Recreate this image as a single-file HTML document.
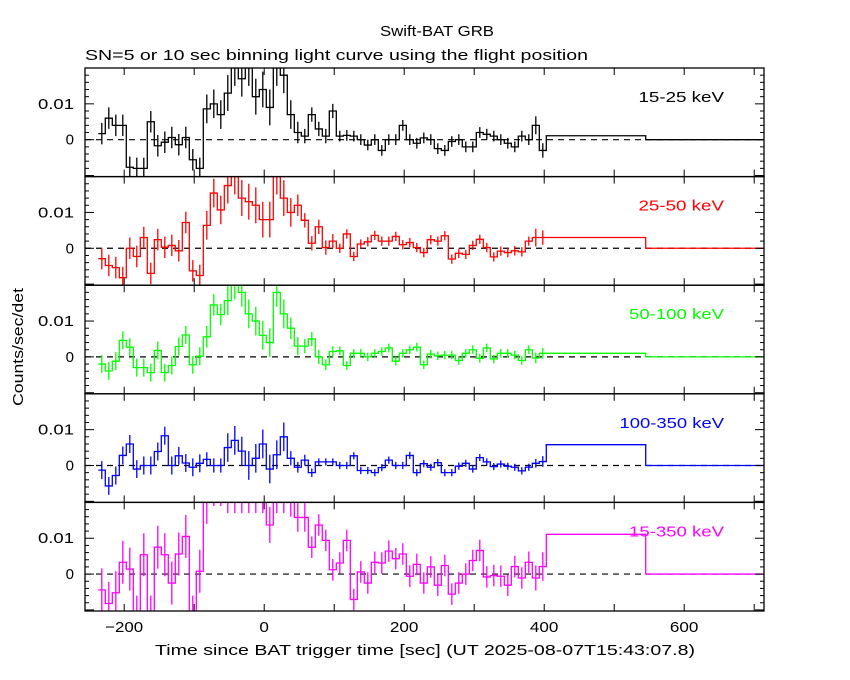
<!DOCTYPE html>
<html><head><meta charset="utf-8"><style>
html,body{margin:0;padding:0;background:#fff;}
svg{display:block;font-family:"Liberation Sans",sans-serif;}
</style></head><body>
<svg id="chart" width="850" height="680" viewBox="0 0 850 680" xmlns="http://www.w3.org/2000/svg">
<text x="437" y="36" font-size="15" text-anchor="middle" textLength="114" lengthAdjust="spacingAndGlyphs">Swift-BAT GRB</text>
<text x="85" y="60" font-size="15" textLength="503" lengthAdjust="spacingAndGlyphs">SN=5 or 10 sec binning light curve using the flight position</text>
<text x="425" y="655" font-size="15" text-anchor="middle" textLength="540" lengthAdjust="spacingAndGlyphs">Time since BAT trigger time [sec] (UT 2025-08-07T15:43:07.8)</text>
<text x="23" y="347" font-size="15" text-anchor="middle" transform="rotate(-90 23 347)" textLength="118" lengthAdjust="spacingAndGlyphs">Counts/sec/det</text>
<g id="panels"></g>
</svg>
<script>
const binStart = -237;
const binWidth = 10;
const tailEdges = [403, 545, 714];
const bandLabels = ["15-25 keV","25-50 keV","50-100 keV","100-350 keV","15-350 keV"];
const bandColors = ["#000000","#ff0000","#00ff00","#0000ff","#ff00ff"];
const rate15_25 = [1.7,6,4,4,-7.7,-8,-8,5,-1.7,-0.7,0.6,-1.4,0.6,-5.6,-8,8.6,10,7,13,20,17,20,12,14,9,20,18,7,2,1,7,3,1,8,1,1.2,1,0,-1.5,0,-3,0,0,4,0,-1,0.5,0,-2.5,-3,-0.5,0,-2,-2,2,1.5,1,0,-1,-2,1,0,4,-3];
const rate25_50 = [-2.9,-4.8,-5.4,-8.2,0,-2.3,3,-7,2.4,0.3,0.8,-0.7,7.2,-6.3,-7.6,6.4,15.4,10.7,17.5,20,14,13,12,8,8,20,14,10,12,7.8,1.4,6,0.2,2,0,4,-2.3,1.2,1.8,3.6,2,2,3.3,1,1.6,0.2,-1.2,2.4,2,3.5,-3,-1.4,-1.7,0.8,2.5,0.2,-2.4,-0.8,-1.2,-0.7,-1,2,3,3];
const rate50_100 = [-2,-3.9,-1.2,4.6,2.7,-3,-3,-4.4,1.8,-4.4,-2.4,2.9,6.1,-2.2,0.2,5.6,14.5,11.8,15.7,20,18,12,10,6,4,18,12,8,3,3,5,0,-2.2,1.5,1.7,-2.4,1,1,0,1,1.5,2.5,-1.2,1,2,2.7,-2.2,0.8,0.3,0.5,0.5,-1,1,2,-0.4,2.5,-0.6,1,1,0.5,-1,2,-0.3,1];
const rate100_350 = [-1.3,-5.7,-2.8,2.8,6,-1,0,0,3.9,8.3,0,2.7,0.7,-0.5,0.6,1.7,0,0,5,7,4,0,2,6,-1,3,8,2,-0.5,1.5,-2,1,1,1,0,0,2.7,-1.4,-1.4,-2,-0.6,1.5,0,0,2.8,-2,0.5,-0.5,0.8,-2,-2,-0.2,0.6,-1,2.2,1,-0.3,0.4,-0.2,-0.5,-1.5,-0.5,0.6,1.1];
const rate15_350 = [-4.4,-8.2,-5.2,3.3,1.4,-12,5.4,-12,7.5,5.4,-2.5,5.6,10.5,-12,0.8,20,25,25,25,25,25,25,25,25,13.7,25,25,22,15.8,15.8,7.5,13.7,9.4,1.2,3.1,9.4,-7.1,0.6,-2.5,3.3,3.1,6.4,4.3,5.6,-0.6,2.7,-2.5,2,-3.1,2.4,-5.6,-2.5,0,3.8,6.6,-0.8,-0.4,-0.6,-3.1,2.1,-1.1,3.3,-1.1,2.1];
const tail15_25 = [1.1,0];
const tail25_50 = [3.0,0];
const tail50_100 = [1.0,0];
const tail100_350 = [5.8,0];
const tail15_350 = [11.1,0];
const err15_25 = [3,3,3,3,3,3,3,3,3,3,3,3,3,3,3,4,4,4,5,5,5,5,5,5,5,5,5,4,3,2,2,2,2,2,1.5,1.5,1.5,1.5,1.5,1.5,1.5,1.5,1.5,1.5,1.5,1.5,1.5,1.5,1.5,1.5,1.5,1.5,1.5,1.5,1.5,1.5,1.5,1.5,1.5,1.5,1.5,1.5,2.5,2];
const err25_50 = [3,3,3,3,3,3,3,3,3,3,3,3,3,3,3,4,4,4,5,5,5,5,5,5,5,5,5,4,3,2,2,2,2,2,1.3,1.3,1.3,1.3,1.3,1.3,1.3,1.3,1.3,1.3,1.3,1.3,1.3,1.3,1.3,1.3,1.3,1.3,1.3,1.3,1.3,1.3,1.3,1.3,1.3,1.3,1.3,1.3,2.5,2];
const err50_100 = [2.5,2.5,2.5,2.5,2.5,2.5,2.5,2.5,2.5,2.5,2.5,2.5,2.5,2.5,2.5,3,3,3,4,4,4,4,4,4,4,4,4,3,2.5,2,2,2,1.5,1.5,1.2,1.2,1.2,1.2,1.2,1.2,1.2,1.2,1.2,1.2,1.2,1.2,1.2,1.2,1.2,1.2,1.2,1.2,1.2,1.2,1.2,1.2,1.2,1.2,1.2,1.2,1.2,1.2,1.5,1.5];
const err100_350 = [2.5,2.5,2.5,2.5,2.5,2.5,2.5,2.5,2.5,2.5,2.5,2.5,2.5,2.5,2.5,2,2,2,4,4,4,4,4,4,4,4,4,2,1.5,1.5,1.2,1,1,1,1,1,1,1,1,1,1,1,1,1,1,1,1,1,1,1,1,1,1,1,1,1,1,1,1,1,1,1,1.2,1.5];
const err15_350 = [6,6,6,6,6,6,6,6,6,6,6,6,6,6,6,6,6,6,8,8,8,8,8,8,5,8,8,6,4,4,3,3,3,3,3,3,3,3,3,3,3,3,3,3,3,3,3,3,3,3,3,3,3,3,3,3,3,3,3,3,3,3,3.5,4];
const yTicksMajor = [0, 10];
const yTickLabels = ["0","0.01"];
const xTickValues = [-200,0,200,400,600];
const xTickLabels = ["−200","0","200","400","600"];

const rates = [rate15_25,rate25_50,rate50_100,rate100_350,rate15_350];
const tails = [tail15_25,tail25_50,tail50_100,tail100_350,tail15_350];
const errs = [err15_25,err25_50,err50_100,err100_350,err15_350];

const NS="http://www.w3.org/2000/svg";
const L=85,R=764,T=68,PH=108.6;
const tMin=-256,tMax=714,yMin=-10.3,yMax=20;
const xS=t=>L+(t-tMin)/(tMax-tMin)*(R-L);
function yS(v,p){const top=T+p*PH;return top+(yMax-v)/(yMax-yMin)*PH;}
const root=document.getElementById('panels');
function mk(tag,attrs,parent){const e=document.createElementNS(NS,tag);for(const k in attrs)e.setAttribute(k,attrs[k]);(parent||root).appendChild(e);return e;}

for(let p=0;p<5;p++){
  const top=T+p*PH,bot=top+PH;
  const g=mk('g',{});
  
  
  const cp=mk('clipPath',{id:'c'+p},g);
  mk('rect',{x:L,y:top,width:R-L,height:PH},cp);
  const z=mk('line',{x1:L,x2:R,y1:yS(0,p),y2:yS(0,p),stroke:'#000','stroke-width':1.2,'stroke-dasharray':'6,5'},g);
  
  
  const dg=mk('g',{'clip-path':'url(#c'+p+')',stroke:bandColors[p],'stroke-width':1.3,fill:'none'},g);
  
  
  let d='';
  const vals=rates[p],er=errs[p];
  for(let i=0;i<vals.length;i++){
    const t0=binStart+i*binWidth,t1=t0+binWidth;
    const y=yS(vals[i],p);
    d+=(i===0?'M':'L')+xS(t0)+','+y+'L'+xS(t1)+','+y;
    const xm=xS(t0+binWidth/2);
    const eb=mk('line',{x1:xm,x2:xm,y1:yS(vals[i]-er[i],p),y2:yS(vals[i]+er[i],p)},dg);
    
    
  }
  const tv=tails[p];
  for(let j=0;j<tv.length;j++){
    const y=yS(tv[j],p);
    d+='L'+xS(tailEdges[j])+','+y+'L'+xS(tailEdges[j+1])+','+y;
  }
  const path=mk('path',{d:d},dg);
  
  
  const fr=mk('rect',{x:L,y:top,width:R-L,height:PH,fill:'none',stroke:'#000','stroke-width':1.3},g);
  
  
  for(let t=-200;t<=700;t+=100){
    mk('line',{x1:xS(t),x2:xS(t),y1:top,y2:top+7,stroke:'#000','stroke-width':1},g);
    mk('line',{x1:xS(t),x2:xS(t),y1:bot,y2:bot-7,stroke:'#000','stroke-width':1},g);
  }
  for(let v=-10;v<=20;v+=2){
    const len=(v%10===0)?9:4;const y=yS(v,p);
    if(y<top+0.5||y>bot-0.5)continue;
    mk('line',{x1:L,x2:L+len,y1:y,y2:y,stroke:'#000','stroke-width':1},g);
    mk('line',{x1:R,x2:R-len,y1:y,y2:y,stroke:'#000','stroke-width':1},g);
  }
  for(let k=0;k<yTicksMajor.length;k++){
    const attrs={x:74,y:yS(yTicksMajor[k],p)+5,'font-size':15,'text-anchor':'end'};
    if(yTickLabels[k].length>1){attrs.textLength=36;attrs.lengthAdjust='spacingAndGlyphs';}
    const tl=mk('text',attrs,g);
    tl.textContent=yTickLabels[k];
    
    
  }
  const lb=mk('text',{x:724,y:top+34,'font-size':15,'text-anchor':'end',fill:bandColors[p],textLength:bandLabels[p].length*9.5,lengthAdjust:'spacingAndGlyphs'},g);
  lb.textContent=bandLabels[p];
  
  
}
for(let k=0;k<xTickValues.length;k++){
  const tx=mk('text',{x:xS(xTickValues[k]),y:632,'font-size':15,'text-anchor':'middle',textLength:xTickLabels[k].length*9.5,lengthAdjust:'spacingAndGlyphs'});
  tx.textContent=xTickLabels[k];
  
  
}
</script>
</body></html>
